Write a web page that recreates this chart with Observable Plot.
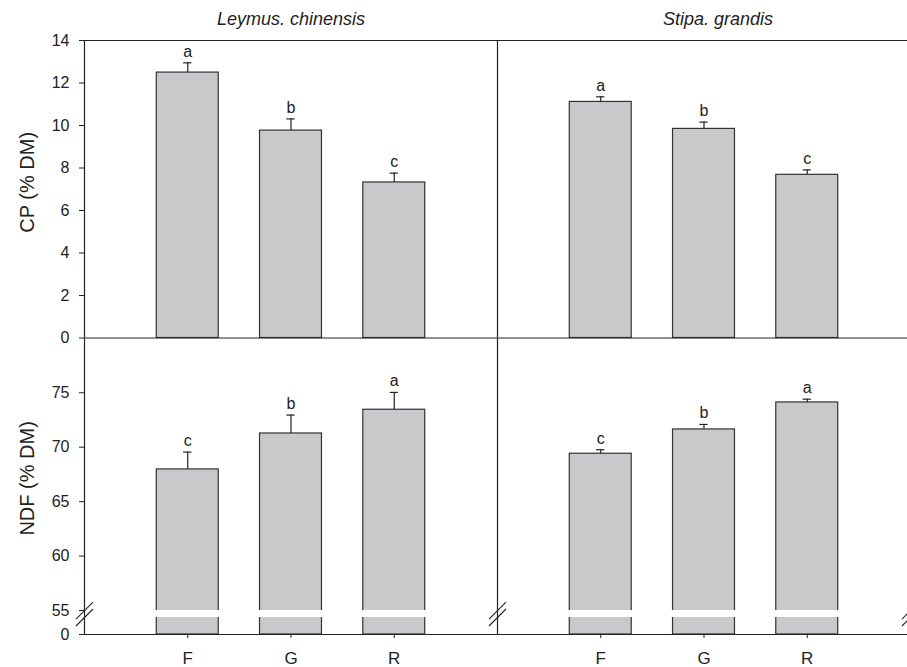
<!DOCTYPE html>
<html>
<head>
<meta charset="utf-8">
<script src="https://cdn.jsdelivr.net/npm/d3@7"></script>
<script src="https://cdn.jsdelivr.net/npm/@observablehq/plot@0.6"></script>
<style>
  body { margin: 0; background: #fff; }
  #chart { position: relative; width: 907px; height: 667px; }
  #chart svg { position: absolute; left: 0; top: 0; }
</style>
</head>
<body>
<div id="chart"></div>
<script>
// ---- data ----
const species = ["Leymus. chinensis", "Stipa. grandis"];
const treatments = ["F", "G", "R"];

const cpMean = [[12.49, 9.76, 7.32], [11.11, 9.84, 7.68]];
const cpSE = [[0.46, 0.55, 0.44], [0.24, 0.32, 0.23]];
const cpLetters = [["a", "b", "c"], ["a", "b", "c"]];

const ndfMean = [[67.96, 71.26, 73.44], [69.40, 71.63, 74.11]];
const ndfSE = [[1.59, 1.69, 1.59], [0.37, 0.46, 0.30]];
const ndfLetters = [["c", "b", "a"], ["c", "b", "a"]];

const cpTicks = [0, 2, 4, 6, 8, 10, 12, 14];
const ndfTicks = [55, 60, 65, 70, 75];

// ---- styling / layout constants ----
const FONT = "'Liberation Sans', Arial, Helvetica, sans-serif";
const INK = "#222";
const BAR_FILL = "#c8c9cb";
const BAR_STROKE = "#333";
const BAR_HALF = 0.3;      // bar half-width in slot units
const CAP_HALF = 0.04;     // error cap half-width
const SLOTS = 4;           // slots per species panel
const panelEdges = [0, 4, 8];
// broken NDF axis: the true zero is drawn just below the break
const AXIS_ZERO = 52.8;    // where "0" sits on the compressed axis
const BREAK_HIGH = 55;
const BREAK_LOW = 54.36;

const rows = [];
species.forEach((sp, s) => treatments.forEach((t, i) => rows.push({
  species: sp, treatment: t, pos: s * SLOTS + i + 1,
  cp: cpMean[s][i], cpSE: cpSE[s][i], cpLetter: cpLetters[s][i],
  ndf: ndfMean[s][i], ndfSE: ndfSE[s][i], ndfLetter: ndfLetters[s][i]
})));
const titles = species.map((sp, s) => ({text: sp, pos: s * SLOTS + 2}));
const tickPos = rows.map(d => d.pos);
const posLabel = new Map(rows.map(d => [d.pos, d.treatment]));

const breaks = [];
panelEdges.forEach(x => [BREAK_HIGH, BREAK_LOW].forEach(y => breaks.push({x, y})));
const slash = {draw(ctx, size) { const r = Math.sqrt(size / Math.PI); ctx.moveTo(-r, r); ctx.lineTo(r, -r); }};

const svgStyle = {background: "transparent", fontFamily: FONT, color: INK, overflow: "hidden"};
const xScale = {domain: [0, 8], range: [84, 910]};

// ---- top row: CP ----
const topPlot = Plot.plot({
  width: 907, height: 667,
  marginLeft: 84, marginRight: 0, marginTop: 40, marginBottom: 329.5,
  style: svgStyle,
  x: {...xScale, axis: null},
  y: {domain: [0, 14], axis: null},
  marks: [
    Plot.rect(rows, {x1: d => d.pos - BAR_HALF, x2: d => d.pos + BAR_HALF, y1: 0, y2: "cp",
      fill: BAR_FILL, stroke: BAR_STROKE, strokeWidth: 1.2}),
    Plot.ruleX(rows, {x: "pos", y1: "cp", y2: d => d.cp + d.cpSE, stroke: INK, strokeWidth: 1.2}),
    Plot.ruleY(rows, {y: d => d.cp + d.cpSE, x1: d => d.pos - CAP_HALF, x2: d => d.pos + CAP_HALF, stroke: INK, strokeWidth: 1.2}),
    Plot.text(rows, {x: "pos", y: d => d.cp + d.cpSE, text: "cpLetter", dy: -6, lineAnchor: "bottom", fontSize: 16}),
    Plot.ruleY([0, 14], {x1: 0, x2: 8, stroke: INK, strokeWidth: 1.2}),
    Plot.ruleX(panelEdges, {y1: 0, y2: 14, stroke: INK, strokeWidth: 1.2}),
    Plot.axisY({ticks: cpTicks, tickSize: 5, tickPadding: 10, fontSize: 16, label: null, stroke: INK}),
    Plot.text(["CP (% DM)"], {text: d => d, frameAnchor: "left", textAnchor: "middle", dx: -57, dy: -7, rotate: -90, fontSize: 20}),
    Plot.text(titles.slice(0, 1), {x: "pos", text: "text", frameAnchor: "top", dy: -21, lineAnchor: "middle",
      fontSize: 18, fontStyle: "italic"}),
    Plot.text(titles.slice(1), {x: "pos", text: "text", frameAnchor: "top", dy: -21, dx: 14, lineAnchor: "middle",
      fontSize: 18, fontStyle: "italic"})
  ]
});

// ---- bottom row: NDF (broken axis) ----
const bottomPlot = Plot.plot({
  width: 907, height: 667,
  marginLeft: 84, marginRight: 0, marginTop: 337.8, marginBottom: 33,
  style: svgStyle,
  x: {...xScale},
  y: {domain: [AXIS_ZERO, 80]},
  marks: [
    Plot.rect(rows, {x1: d => d.pos - BAR_HALF, x2: d => d.pos + BAR_HALF, y1: AXIS_ZERO, y2: "ndf",
      fill: BAR_FILL, stroke: BAR_STROKE, strokeWidth: 1.2}),
    Plot.rect(rows, {x1: d => d.pos - BAR_HALF - 0.015, x2: d => d.pos + BAR_HALF + 0.015, y1: BREAK_LOW, y2: BREAK_HIGH,
      fill: "white"}),
    Plot.ruleX(rows, {x: "pos", y1: "ndf", y2: d => d.ndf + d.ndfSE, stroke: INK, strokeWidth: 1.2}),
    Plot.ruleY(rows, {y: d => d.ndf + d.ndfSE, x1: d => d.pos - CAP_HALF, x2: d => d.pos + CAP_HALF, stroke: INK, strokeWidth: 1.2}),
    Plot.text(rows, {x: "pos", y: d => d.ndf + d.ndfSE, text: "ndfLetter", dy: -6, lineAnchor: "bottom", fontSize: 16}),
    Plot.ruleY([AXIS_ZERO], {x1: 0, x2: 8, stroke: INK, strokeWidth: 1.2}),
    Plot.ruleX(panelEdges, {y1: AXIS_ZERO, y2: 80, stroke: INK, strokeWidth: 1.2}),
    Plot.dot(breaks, {x: "x", y: "y", symbol: slash, r: 8.5, stroke: INK, fill: "none", strokeWidth: 1.1}),
    Plot.axisY({ticks: [AXIS_ZERO, ...ndfTicks], tickFormat: v => v === AXIS_ZERO ? "0" : String(v),
      tickSize: 5, tickPadding: 10, fontSize: 16, label: null, stroke: INK}),
    Plot.axisX({ticks: tickPos, tickFormat: p => posLabel.get(p), tickSize: 4, tickPadding: 13,
      fontSize: 17, label: null, stroke: INK}),
    Plot.text(["NDF (% DM)"], {text: d => d, frameAnchor: "left", textAnchor: "middle", dx: -57, dy: -8, rotate: -90, fontSize: 20})
  ]
});

const chart = document.getElementById("chart");
chart.append(topPlot, bottomPlot);
</script>
</body>
</html>
